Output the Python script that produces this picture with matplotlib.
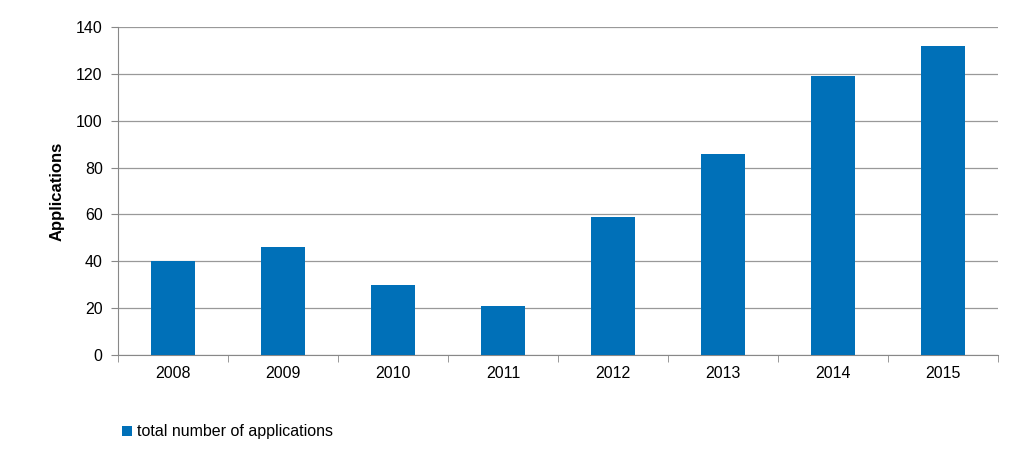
import matplotlib.pyplot as plt
import numpy as np

years = ['2008', '2009', '2010', '2011', '2012', '2013', '2014', '2015']
applications = [40, 46, 30, 21, 59, 86, 119, 132]

plt.rcParams['font.family'] = 'Liberation Sans'
fig = plt.figure(figsize=(10.28, 4.63), dpi=100)
ax = fig.add_axes([0.1148, 0.2333, 0.856, 0.7084])

x = np.arange(len(years))
bars = ax.bar(x, applications, width=0.4, color='#0070b8', zorder=3,
              label='total number of applications')

ax.set_xlim(-0.5, len(years) - 0.5)
ax.set_ylim(0, 140)
ax.set_yticks(range(0, 141, 20))
ax.set_xticks(x)
ax.set_xticklabels(years)
ax.set_xticks(np.arange(-0.5, len(years), 1), minor=True)
ax.tick_params(axis='x', which='major', length=0, pad=8, labelsize=11.5)
ax.tick_params(axis='x', which='minor', length=5, color='#888888')
ax.tick_params(axis='y', length=5, color='#888888', labelsize=11.5, pad=6)
ax.grid(axis='y', color='#999999', linewidth=0.9, zorder=0)
for s in ['top', 'right']:
    ax.spines[s].set_visible(False)
for s in ['left', 'bottom']:
    ax.spines[s].set_color('#888888')
ax.set_ylabel('Applications', fontsize=12, fontweight='bold', labelpad=8)

fig.legend(handles=[bars], loc='lower left', bbox_to_anchor=(0.105, 0.02),
           frameon=False, fontsize=11.5, handlelength=0.6, handleheight=0.6,
           handletextpad=0.3)

fig.savefig('out.png', dpi=100)
